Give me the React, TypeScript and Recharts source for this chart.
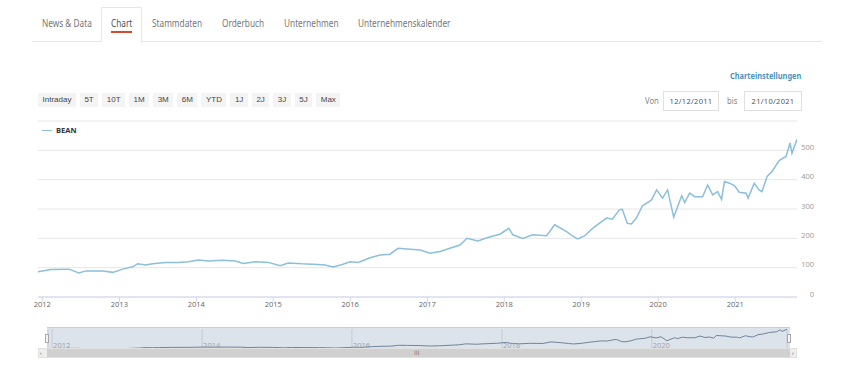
import React from 'react';
import { LineChart, Line, XAxis, YAxis, CartesianGrid } from 'recharts';

const tabs = ['News & Data', 'Chart', 'Stammdaten', 'Orderbuch', 'Unternehmen', 'Unternehmenskalender'];
const rangeButtons = ['Intraday', '5T', '10T', '1M', '3M', '6M', 'YTD', '1J', '2J', '3J', '5J', 'Max'];
const seriesName = 'BEAN';
const fromDate = '12/12/2011';
const toDate = '21/10/2021';
const settingsLabel = 'Charteinstellungen';

const dates = [
  '2011-12-12', '2012-02-11', '2012-05-07', '2012-06-23', '2012-07-26', '2012-10-15', '2012-12-01',
  '2013-01-17', '2013-03-05', '2013-03-29', '2013-05-06', '2013-06-08', '2013-08-08', '2013-10-09', '2013-11-25',
  '2014-01-11', '2014-02-27', '2014-05-05', '2014-07-05', '2014-08-12', '2014-10-08', '2014-12-09',
  '2015-02-03', '2015-03-13', '2015-05-18', '2015-07-28', '2015-09-04', '2015-10-12', '2015-11-24',
  '2016-01-01', '2016-02-08', '2016-04-05', '2016-05-22', '2016-07-08', '2016-08-15', '2016-09-27', '2016-11-28',
  '2017-01-14', '2017-03-03', '2017-04-18', '2017-06-05', '2017-07-08', '2017-08-29', '2017-10-11', '2017-12-11',
  '2018-01-23', '2018-02-11', '2018-03-30', '2018-05-16', '2018-07-21', '2018-08-28', '2018-10-24', '2018-11-21', '2018-12-15',
  '2019-01-17', '2019-02-24', '2019-03-28', '2019-05-01', '2019-05-29', '2019-07-01', '2019-07-15', '2019-08-08',
  '2019-08-27', '2019-09-20', '2019-10-19', '2019-12-01', '2019-12-25',
  '2020-01-22', '2020-02-15', '2020-03-15', '2020-04-22', '2020-05-06', '2020-05-30', '2020-06-23', '2020-07-30',
  '2020-08-23', '2020-09-16', '2020-10-09', '2020-10-28', '2020-11-11', '2020-12-05', '2020-12-29',
  '2021-01-20', '2021-02-22', '2021-03-03', '2021-04-01', '2021-04-24', '2021-05-08', '2021-06-01', '2021-06-25',
  '2021-07-28', '2021-08-30', '2021-09-18', '2021-09-27', '2021-10-21',
];
const values = [
  86, 94, 95, 82, 89, 89, 84,
  95, 103, 113, 109, 113, 118, 118, 120,
  126, 123, 125, 123, 114, 120, 118,
  107, 116, 113, 111, 109, 102, 111,
  120, 118, 134, 143, 146, 166, 164, 160,
  149, 155, 166, 177, 200, 191, 202, 214,
  234, 212, 200, 212, 209, 246, 223, 208, 198,
  208, 234, 251, 269, 265, 297, 299, 251,
  249, 269, 311, 331, 365,
  337, 365, 272, 345, 322, 354, 342, 342,
  382, 348, 359, 333, 394, 388, 379,
  357, 354, 337, 388, 365, 359, 411, 428,
  465, 479, 525, 490, 538,
];
const yearTicks = ['2012-01-01', '2013-01-01', '2014-01-01', '2015-01-01', '2016-01-01', '2017-01-01', '2018-01-01', '2019-01-01', '2020-01-01', '2021-01-01'];
const navTicks = ['2012-01-01', '2014-01-01', '2016-01-01', '2018-01-01', '2020-01-01'];
const yTicks = [0, 100, 200, 300, 400, 500, 600];

const toTs = (d: string) => Date.UTC(+d.slice(0, 4), +d.slice(5, 7) - 1, +d.slice(8, 10));
const data = dates.map((d, i) => ({ t: toTs(d), v: values[i] }));
const xDomain = [toTs(dates[0]), toTs(dates[dates.length - 1])];

const LINE = '#8bbfdb';
const uiFont = '"Noto Sans", sans-serif';
const chartFont = '"Open Sans", "Noto Sans", sans-serif';

const XTick = (props: any) => {
  const { x, y, payload } = props;
  return (
    <text x={x} y={y} dy="0.71em" textAnchor="middle" fontSize={7.5} fill="#666" fontFamily={chartFont}>
      {new Date(payload.value).getUTCFullYear()}
    </text>
  );
};

const YTick = (props: any) => {
  const { x, y, payload } = props;
  if (payload.value === 600) return <g />;
  return (
    <text x={x + 9} y={y - 3} dy="0.35em" textAnchor="end" fontSize={7.5} fill="#999" fontFamily={chartFont}>
      {payload.value}
    </text>
  );
};

const NavTick = (props: any) => {
  const { x, payload } = props;
  return (
    <text x={x + 1} y={28} textAnchor="start" fontSize={7.5} fill="#9aa1a8" fontFamily={chartFont}>
      {new Date(payload.value).getUTCFullYear()}
    </text>
  );
};

const tabLefts = [42, 111, 152, 222, 284, 358];

const Narrow = ({ left, top, size, color, bold, children, scale = 0.75 }: any) => (
  <span style={{ position: 'absolute', left, top, fontFamily: uiFont, fontSize: size, fontWeight: bold ? 'bold' : 'normal', color, whiteSpace: 'nowrap', lineHeight: '14px', transform: `scaleX(${scale})`, transformOrigin: 'left center' }}>{children}</span>
);

export default function App() {
  return (
    <div style={{ position: 'absolute', left: 0, top: 0, width: 860, height: 378, background: '#fff', overflow: 'hidden' }}>
      {/* Tabs */}
      <div style={{ position: 'absolute', left: 101, top: 7, width: 41, height: 35, background: '#fff', border: '1px solid #e6e6e6', borderBottom: 'none', boxSizing: 'border-box' }} />
      <div style={{ position: 'absolute', left: 32, top: 41, width: 790, height: 1, background: '#e6e6e6' }} />
      <div style={{ position: 'absolute', left: 102, top: 41, width: 39, height: 1, background: '#fff' }} />
      {tabs.map((t, i) => (
        <Narrow key={t} left={tabLefts[i]} top={16} size={11} color={i === 1 ? '#555' : '#777'}>{t}</Narrow>
      ))}
      <div style={{ position: 'absolute', left: 111, top: 31, width: 21, height: 2, background: '#d6492e' }} />

      {/* Range buttons */}
      <div style={{ position: 'absolute', left: 38, top: 93, display: 'flex', gap: 4 }}>
        {rangeButtons.map((b) => (
          <div key={b} style={{ background: '#f4f4f4', padding: '0 4.5px', minWidth: 17, boxSizing: 'border-box', textAlign: 'center', height: 14, lineHeight: '14px', fontFamily: '"Liberation Sans", Arial, sans-serif', fontSize: 8, color: '#444', whiteSpace: 'nowrap' }}>{b}</div>
        ))}
      </div>

      {/* Settings / dates */}
      <Narrow left={730} top={69} size={9.5} bold color="#4d93bd" scale={0.78}>{settingsLabel}</Narrow>
      <Narrow left={645} top={94} size={9} color="#888" scale={0.85}>Von</Narrow>
      <div style={{ position: 'absolute', left: 663, top: 91, width: 56, height: 20, border: '1px solid #e0e0e0', boxSizing: 'border-box', fontFamily: uiFont, fontSize: 7.5, color: '#555', lineHeight: '18px', textAlign: 'center', letterSpacing: 0.3 }}>{fromDate}</div>
      <Narrow left={727} top={94} size={9} color="#888" scale={0.85}>bis</Narrow>
      <div style={{ position: 'absolute', left: 744, top: 91, width: 58, height: 20, border: '1px solid #e0e0e0', boxSizing: 'border-box', fontFamily: uiFont, fontSize: 7.5, color: '#555', lineHeight: '18px', textAlign: 'center', letterSpacing: 0.3 }}>{toDate}</div>

      {/* Main chart */}
      <div style={{ position: 'absolute', left: 0, top: 110 }}>
        <LineChart width={860} height={210} data={data} margin={{ top: 11, right: 0, left: 38, bottom: 3 }}>
          <CartesianGrid vertical={false} stroke="#e6e6e6" />
          <XAxis
            dataKey="t"
            type="number"
            domain={xDomain}
            ticks={yearTicks.map(toTs)}
            tick={<XTick />}
            interval={0}
            tickSize={5}
            tickMargin={0}
            tickLine={{ stroke: '#ccd6eb' }}
            axisLine={{ stroke: '#ccd6eb' }}
            height={20}
            allowDataOverflow
          />
          <YAxis
            orientation="right"
            width={63}
            domain={[0, 600]}
            ticks={yTicks}
            tick={<YTick />}
            axisLine={false}
            tickLine={false}
            interval={0}
          />
          <Line type="linear" dataKey="v" stroke={LINE} strokeWidth={1.5} dot={false} isAnimationActive={false} />
        </LineChart>
      </div>
      {/* Legend */}
      <div style={{ position: 'absolute', left: 42, top: 130, width: 10, height: 1, background: LINE }} />
      <span style={{ position: 'absolute', left: 56, top: 125, fontFamily: chartFont, fontSize: 7.5, fontWeight: 'bold', color: '#333', lineHeight: '10px' }}>{seriesName}</span>

      {/* Navigator */}
      <div style={{ position: 'absolute', left: 47, top: 327, width: 743, height: 21, background: '#dde3ea', borderTop: '1px solid #c9ced4', boxSizing: 'border-box' }} />
      <div style={{ position: 'absolute', left: 0, top: 320 }}>
        <LineChart width={860} height={40} data={data} margin={{ top: 9, right: 73, left: 48, bottom: 0 }}>
          <CartesianGrid horizontal={false} stroke="#c3cbd4" />
          <XAxis
            dataKey="t"
            type="number"
            domain={xDomain}
            ticks={navTicks.map(toTs)}
            tick={<NavTick />}
            interval={0}
            axisLine={false}
            tickLine={false}
            height={11}
            allowDataOverflow
          />
          <YAxis hide domain={[80, 545]} />
          <Line type="linear" dataKey="v" stroke="#6f849b" strokeWidth={1} dot={false} isAnimationActive={false} />
        </LineChart>
      </div>
      <div style={{ position: 'absolute', left: 45, top: 334, width: 4, height: 9, background: '#f4f4f4', border: '1px solid #aaa', boxSizing: 'border-box' }} />
      <div style={{ position: 'absolute', left: 787, top: 334, width: 4, height: 9, background: '#f4f4f4', border: '1px solid #aaa', boxSizing: 'border-box' }} />

      {/* Scrollbar */}
      <div style={{ position: 'absolute', left: 38, top: 348, width: 759, height: 10, background: '#eeeeee', border: '1px solid #e0e0e0', boxSizing: 'border-box' }} />
      <div style={{ position: 'absolute', left: 47, top: 349, width: 743, height: 8, background: '#d0d0d0' }} />
      <span style={{ position: 'absolute', left: 40, top: 349, fontSize: 6, lineHeight: '8px', color: '#555', fontFamily: chartFont }}>‹</span>
      <span style={{ position: 'absolute', left: 792, top: 349, fontSize: 6, lineHeight: '8px', color: '#555', fontFamily: chartFont }}>›</span>
      <span style={{ position: 'absolute', left: 414, top: 349, fontSize: 6, lineHeight: '8px', color: '#777', fontFamily: '"DejaVu Sans", sans-serif' }}>III</span>
    </div>
  );
}
